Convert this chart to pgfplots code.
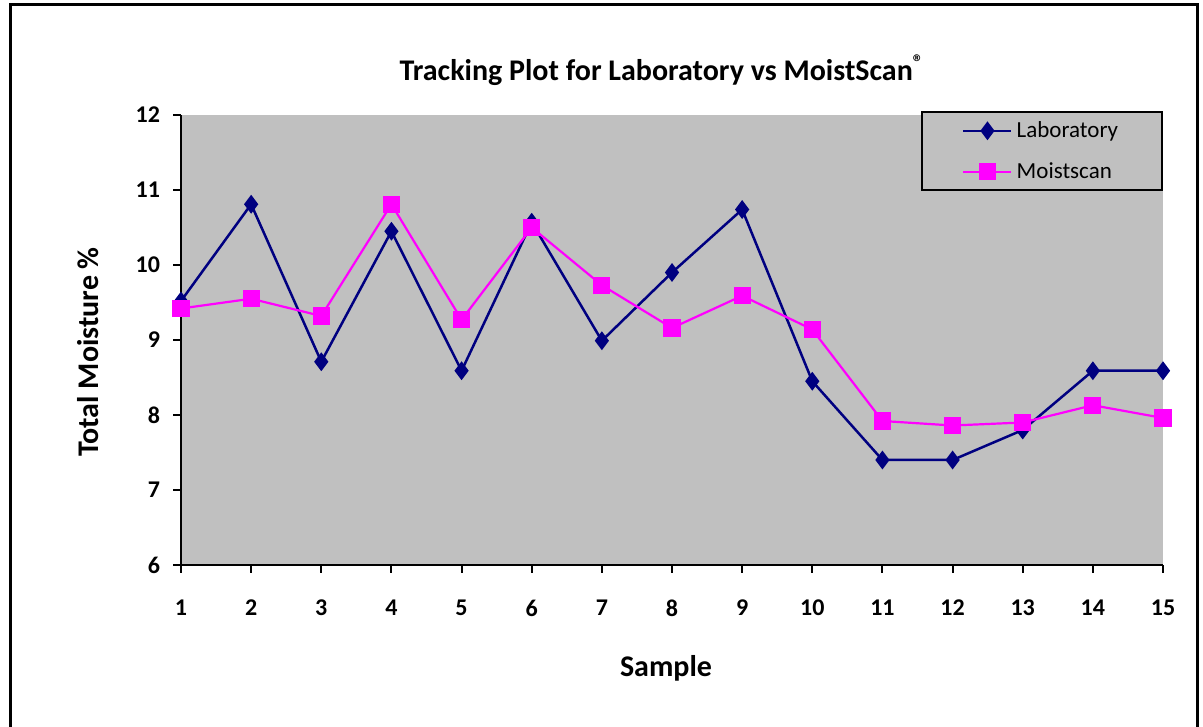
\documentclass[border=0pt]{standalone}
\usepackage{pgfplots}
\pgfplotsset{compat=1.18}
\usepackage{fontspec}
\setmainfont{Carlito}
\definecolor{bg}{RGB}{192,192,192}
\definecolor{labc}{RGB}{0,0,128}
\definecolor{moic}{RGB}{255,0,255}
\begin{document}
\begin{tikzpicture}
\useasboundingbox (0,0) rectangle (601.5pt,363.5pt);
\draw[line width=1.5pt] (5pt,-1pt) -- (5pt,361pt) -- (598.5pt,361pt) -- (598.5pt,-1pt);
\begin{axis}[
  at={(90.5pt,81pt)}, anchor=south west,
  scale only axis, width=491pt, height=225pt,
  xmin=1, xmax=15, ymin=6, ymax=12,
  xtick={1,...,15}, ytick={6,...,12},
  axis x line*=bottom, axis y line*=left,
  axis line style={line width=1pt, -},
  tick style={line width=1pt, black},
  tick align=outside, major tick length=4pt,
  axis background/.style={fill=bg},
  clip=false,
  /pgf/number format/assume math mode=true,
  ticklabel style={font=\fontsize{12}{14}\selectfont\bfseries},
  xticklabel style={yshift=-10pt},
  yticklabel style={xshift=-3pt},
  legend style={at={(1,1.008)}, anchor=north east, draw=black, line width=0.9pt,
    fill=bg, font=\fontsize{11.5}{13}\selectfont, cells={anchor=west},
    inner xsep=20pt, inner ysep=2.5pt, row sep=7pt},
  legend image code/.code={\draw[mark repeat=2,mark phase=2,#1] plot coordinates {(0pt,0pt) (12pt,0pt) (24pt,0pt)};},
]
\addplot[color=labc, line width=1.25pt, mark=diamond*, mark size=3.7pt, mark options={solid, fill=labc}]
  coordinates {(1,9.52) (2,10.81) (3,8.71) (4,10.45) (5,8.59) (6,10.57) (7,8.99) (8,9.90) (9,10.74) (10,8.45) (11,7.40) (12,7.40) (13,7.80) (14,8.59) (15,8.59)};
\addlegendentry{Laboratory}
\addplot[color=moic, line width=1.1pt, mark=square*, mark size=3.75pt, mark options={solid, fill=moic}]
  coordinates {(1,9.42) (2,9.55) (3,9.32) (4,10.81) (5,9.27) (6,10.50) (7,9.73) (8,9.16) (9,9.59) (10,9.14) (11,7.92) (12,7.86) (13,7.90) (14,8.13) (15,7.96)};
\addlegendentry{Moistscan}
\end{axis}
\node[font=\fontsize{15}{18}\selectfont\bfseries] at (331pt,328.5pt) {Tracking Plot for Laboratory vs MoistScan\textsuperscript{®}};
\node[font=\fontsize{15}{18}\selectfont\bfseries, rotate=90] at (44pt,187.5pt) {Total Moisture \%};
\node[font=\fontsize{15}{18}\selectfont\bfseries] at (333pt,29.5pt) {Sample};
\end{tikzpicture}
\end{document}
